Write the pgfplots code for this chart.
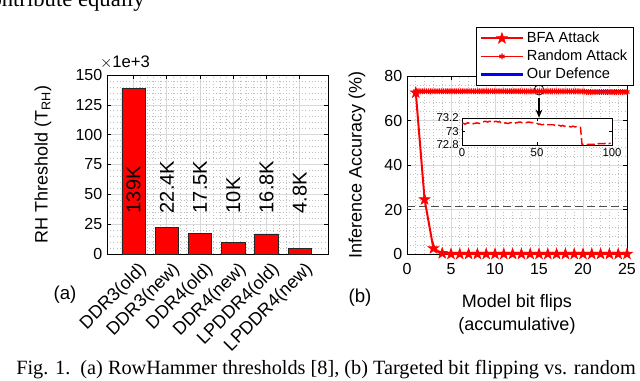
\documentclass[border=0pt]{standalone}
\usepackage{fontspec}
\setmainfont{Liberation Sans}
\newfontfamily\capfont{Liberation Serif}
\usepackage{pgfplots}
\usepackage{pgfplotstable}
\pgfplotsset{compat=1.18}
\usetikzlibrary{arrows.meta}

% filled five-pointed star, like MATLAB's pentagram
\pgfdeclareplotmark{pent}{%
  \pgfpathmoveto{\pgfpointpolar{90}{\pgfplotmarksize}}%
  \pgfpathlineto{\pgfpointpolar{126}{0.4\pgfplotmarksize}}%
  \pgfpathlineto{\pgfpointpolar{162}{\pgfplotmarksize}}%
  \pgfpathlineto{\pgfpointpolar{198}{0.4\pgfplotmarksize}}%
  \pgfpathlineto{\pgfpointpolar{234}{\pgfplotmarksize}}%
  \pgfpathlineto{\pgfpointpolar{270}{0.4\pgfplotmarksize}}%
  \pgfpathlineto{\pgfpointpolar{306}{\pgfplotmarksize}}%
  \pgfpathlineto{\pgfpointpolar{342}{0.4\pgfplotmarksize}}%
  \pgfpathlineto{\pgfpointpolar{18}{\pgfplotmarksize}}%
  \pgfpathlineto{\pgfpointpolar{54}{0.4\pgfplotmarksize}}%
  \pgfpathclose\pgfusepathqfillstroke}

% random attack, 100 flips
\pgfplotstableread{
n acc
1 73.12
2 73.12
3 73.11
4 73.12
5 73.13
6 73.12
7 73.12
8 73.11
9 73.12
10 73.12
11 73.13
12 73.12
13 73.12
14 73.13
15 73.14
16 73.15
17 73.15
18 73.14
19 73.15
20 73.15
21 73.15
22 73.14
23 73.15
24 73.15
25 73.14
26 73.15
27 73.13
28 73.12
29 73.12
30 73.13
31 73.12
32 73.12
33 73.13
34 73.13
35 73.12
36 73.12
37 73.13
38 73.13
39 73.14
40 73.14
41 73.13
42 73.14
43 73.13
44 73.13
45 73.14
46 73.14
47 73.13
48 73.13
49 73.13
50 73.13
51 73.12
52 73.11
53 73.11
54 73.10
55 73.10
56 73.11
57 73.10
58 73.10
59 73.10
60 73.10
61 73.10
62 73.10
63 73.09
64 73.10
65 73.09
66 73.09
67 73.08
68 73.09
69 73.08
70 73.08
71 73.08
72 73.08
73 73.07
74 73.07
75 73.08
76 73.07
77 73.07
78 73.06
79 73.06
80 73.06
81 72.81
82 72.81
83 72.81
84 72.80
85 72.81
86 72.81
87 72.81
88 72.81
89 72.81
90 72.82
91 72.81
92 72.82
93 72.82
94 72.82
95 72.82
96 72.82
97 72.83
98 72.83
99 72.82
100 72.83
}\randtab

\pgfplotsset{
  matlab/.style={
    scale only axis,
    tick align=inside,
    major tick length=3pt,
    minor tick length=0pt,
    grid=both,
    major grid style={gray!30, line width=0.5pt},
    minor grid style={gray!50, dotted, line width=0.5pt},
    axis line style={black, line width=0.6pt},
    every tick/.style={black, line width=0.5pt},
    tick label style={font=\fontsize{12}{14}\selectfont},
    label style={font=\fontsize{13.5}{17}\selectfont},
    /pgf/number format/assume math mode=true,
  }
}

\begin{document}
\begin{tikzpicture}
\useasboundingbox (0,0) rectangle (480pt,-285.75pt);

% text cut from the page around the figure
\node[anchor=base east, inner sep=0pt, font=\capfont\fontsize{17}{20}\selectfont] at (108.75pt,-5.25pt) {contribute equally};
\node[anchor=base west, inner sep=0pt, font=\capfont\fontsize{15.2}{18}\selectfont] at (12pt,-281.25pt)
  {Fig. 1.\ \ (a) RowHammer thresholds [8], (b) Targeted bit flipping vs. random};

% (a) RowHammer thresholds
\begin{axis}[matlab,
  at={(80.25pt,-190.5pt)}, anchor=south west,
  width=165.75pt, height=134.25pt,
  xmin=0.2, xmax=6.85, ymin=0, ymax=150,
  xtick={1,...,6}, ytick={0,25,...,150},
  minor x tick num=4, minor y tick num=4,
  xticklabels={DDR3(old),DDR3(new),DDR4(old),DDR4(new),LPDDR4(old),LPDDR4(new)},
  xticklabel style={xshift=10pt, yshift=-7pt, rotate=45, anchor=east, font=\fontsize{13.5}{15}\selectfont},
  ylabel={RH Threshold (T\textsubscript{RH})},
  ylabel style={at={(axis description cs:-0.29,0.5)}, anchor=center},
]
\addplot[ybar, bar width=0.7, fill=red, draw=black!85, line width=0.6pt]
  coordinates {(1,139) (2,22.4) (3,17.5) (4,10) (5,16.8) (6,4.8)};
\addplot[draw=none, mark=none, nodes near coords, point meta=explicit symbolic,
  nodes near coords style={rotate=90, anchor=west, inner sep=0pt, black, font=\fontsize{15}{17}\selectfont}]
  coordinates {(1,34) [139K] (2,34) [22.4K] (3,34) [17.5K] (4,34) [10K] (5,34) [16.8K] (6,34) [4.8K]};
\end{axis}
\node[anchor=base, font=\fontsize{12.5}{14}\selectfont] at (93.75pt,-51pt) {$\times$1e+3};

% (b) accuracy vs. bit flips
\begin{axis}[matlab,
  at={(305.25pt,-190.5pt)}, anchor=south west,
  width=165pt, height=133.5pt,
  xmin=0, xmax=25, ymin=0, ymax=80,
  xtick={0,5,...,25}, ytick={0,20,...,80},
  minor x tick num=4, minor y tick num=4,
  xticklabel style={yshift=-3.5pt},
  xlabel={Model bit flips\\(accumulative)},
  xlabel style={align=center, at={(axis description cs:0.5,-0.2)}, anchor=north},
  ylabel={Inference Accuracy (\%)},
  ylabel style={at={(axis description cs:-0.227,0.5)}, anchor=center},
  legend style={at={(1.03,1.275)}, anchor=north east, draw=black, fill=white,
    line width=0.6pt, font=\fontsize{11}{13}\selectfont, inner xsep=2.5pt, inner ysep=1.5pt,
    row sep=0pt},
  legend cell align=left,
  legend image code/.code={\draw[mark repeat=2, mark phase=2, #1]
    plot coordinates {(0pt,0pt) (15.75pt,0pt) (31.5pt,0pt)};},
]
\addplot[forget plot, black!70, dash pattern=on 6pt off 3pt, line width=0.8pt]
  coordinates {(0,21.5) (25,21.5)};
\addplot[red, line width=1.5pt, mark=pent, mark size=4.2pt, mark options={solid, fill=red, line width=0.5pt}]
  coordinates {(1,72.5) (2,24.5) (3,2.5) (4,0.3) (5,0) (6,0) (7,0) (8,0) (9,0) (10,0)
    (11,0) (12,0) (13,0) (14,0) (15,0) (16,0) (17,0) (18,0) (19,0) (20,0)
    (21,0) (22,0) (23,0) (24,0) (25,0)};
\addlegendentry{BFA Attack}
\addplot[red, line width=1.2pt, mark=asterisk, mark size=2.2pt, mark options={line width=0.9pt}]
  table[x expr={1+(\thisrow{n}-1)*0.242424}, y=acc] {\randtab};
\addlegendentry{Random Attack}
\addplot[blue, line width=2pt] coordinates {(1,73.1) (25,73.1)};
\addlegendentry{Our Defence}
\draw[black, line width=0.6pt] (axis cs:15,73.7) circle[radius=3.75pt];
\draw[black, line width=1pt, -{Stealth[length=6pt,width=5pt]}] (axis cs:15,70.2) -- (axis cs:15,61.3);
\end{axis}

% inset: zoom on the random attack curve
\begin{axis}[
  scale only axis,
  at={(346.5pt,-108.75pt)}, anchor=south west,
  width=112.5pt, height=20.25pt,
  xmin=0, xmax=100, ymin=72.8, ymax=73.2,
  xtick={0,50,100}, ytick={72.8,73,73.2},
  tick align=inside, major tick length=2.5pt,
  axis background/.style={fill=white},
  axis line style={black, line width=0.6pt},
  every tick/.style={black, line width=0.5pt},
  tick label style={font=\fontsize{8.5}{10}\selectfont},
  xticklabel style={yshift=1pt},
  yticklabel style={xshift=1pt},
  /pgf/number format/assume math mode=true,
]
\addplot[red, line width=1.1pt, dash pattern=on 6pt off 2.5pt]
  table[x expr={\thisrow{n}-1}, y=acc] {\randtab};
\end{axis}

\node[font=\fontsize{14}{16}\selectfont] at (48.75pt,-221.25pt) {(a)};
\node[font=\fontsize{14}{16}\selectfont] at (270pt,-223.5pt) {(b)};
\end{tikzpicture}
\end{document}
